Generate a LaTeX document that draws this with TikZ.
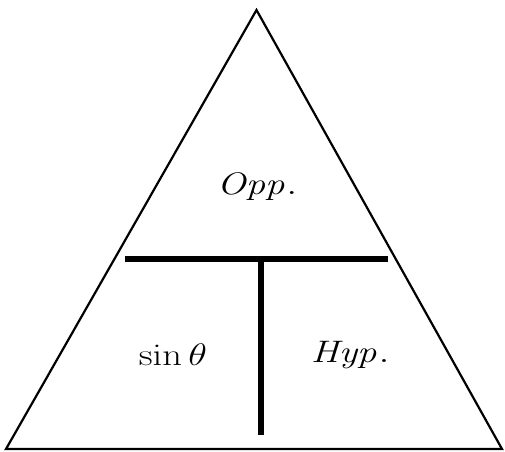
\documentclass[tikz,border=0pt]{standalone}
\begin{document}
\begin{tikzpicture}[x=1pt,y=-1pt,
  tri/.style={line width=2.2pt, line join=miter},
  bar/.style={line width=6pt},
  lbl/.style={font=\Huge, inner sep=0pt, xscale=1.55, yscale=1.25}]
\useasboundingbox (0,0) rectangle (505,451);
\coordinate (apex) at (256.5,10);
\coordinate (bl) at (6,449);
\coordinate (br) at (502,449);
\draw[tri] (bl) -- (apex) -- (br) -- cycle;
\coordinate (hl) at (125,258.7);
\coordinate (hr) at (388,258.7);
\coordinate (vt) at (260.7,258.7);
\coordinate (vb) at (260.7,435);
\draw[bar] (hl) -- (hr);
\draw[bar] (vt) -- (vb);
\node[lbl] (opp) at (257,187) {$\mathit{Opp}.$};
\node[lbl] (sin) at (173,355) {$\sin\theta$};
\node[lbl] (hyp) at (350,355) {$\mathit{Hyp}.$};
\end{tikzpicture}
\end{document}
